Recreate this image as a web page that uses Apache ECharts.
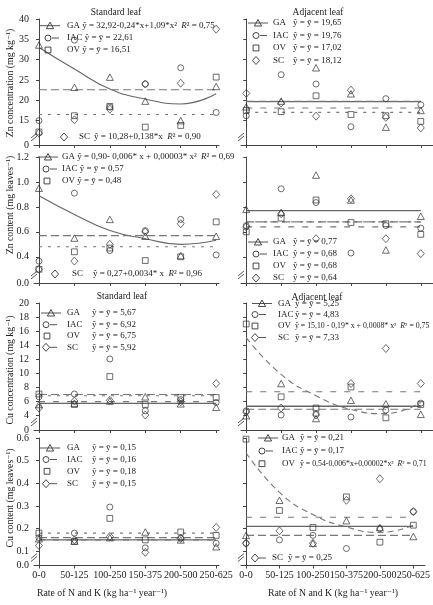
<html>
<head>
<meta charset="utf-8">
<script src="https://cdn.jsdelivr.net/npm/echarts@6.0.0/dist/echarts.min.js"></script>
<style>
html, body { margin: 0; padding: 0; background: #ffffff; }
#chart { width: 433px; height: 605px; }
</style>
</head>
<body>
<div id="chart"></div>
<script>
///////////////////////////////////////////////////////////////////////////////
// data (order of the inner arrays: GA, IAC, OV, SC)
var categories = ['0-0', '50-125', '100-250', '150-375', '200-500', '250-625'];
var varieties = ['GA', 'IAC', 'OV', 'SC'];

var znConcTicks = [15, 20, 25, 30, 35, 40];
var znContTicks = [0.4, 0.6, 0.8, 1.0, 1.2];
var cuConcTicks = [4, 6, 8, 10, 12, 14, 16, 18, 20];
var cuContTicks = [0.1, 0.2, 0.3, 0.4, 0.5, 0.6];

// Zn concentration, standard leaf
var znConcStd = [
	[33.6, 23.2, 25.7, 19.8, 15.0, 23.4],
	[15.0, 34.8, 18.3, 24.0, 28.0, 17.0],
	[12.2, 16.2, 18.5, 13.4, 13.8, 25.7],
	[11.9, 15.2, 17.8, 24.0, 24.2, 37.5]
];
var znConcStdMean = [null, 22.61, 16.51, null];
var znConcStdFit = [[33.0, 27.7, 22.8, 20.3, 19.1, 21.6], null, null, null];
var znConcStdEq = ['ŷ = 32,92-0,24*x+1,09*x²', 'ŷ = ȳ = 22,61', 'ŷ = ȳ = 16,51', 'ŷ = 10,28+0,138*x'];
var znConcStdR2 = ['0,75', '', '', '0,90'];

// Zn concentration, adjacent leaf
var znConcAdj = [
	[18.4, 19.8, 28.0, 21.6, 13.4, 17.5],
	[16.2, 26.3, 24.0, 13.5, 20.4, 18.9],
	[17.5, 17.2, 21.1, 16.5, 16.2, 14.8],
	[21.7, 19.3, 16.1, 22.5, 15.8, 13.2]
];
var znConcAdjMean = [19.65, 19.76, 17.02, 18.12];
var znConcAdjFit = [null, null, null, null];
var znConcAdjEq = ['ŷ = ȳ = 19,65', 'ŷ = ȳ = 19,76', 'ŷ = ȳ = 17,02', 'ŷ = ȳ = 18,12'];
var znConcAdjR2 = ['', '', '', ''];

// Zn content, standard leaf
var znContStd = [
	[0.95, 0.55, 0.70, 0.565, 0.41, 0.565],
	[0.365, 0.91, 0.45, 0.61, 0.70, 0.415],
	[0.30, 0.44, 0.47, 0.37, 0.40, 0.68],
	[0.30, 0.365, 0.50, 0.60, 0.665, 0.90]
];
var znContStdMean = [null, 0.57, 0.48, null];
var znContStdFit = [[0.89, 0.74, 0.61, 0.545, 0.50, 0.533], null, null, null];
var znContStdEq = ['ŷ = 0,90- 0,006* x + 0,00003* x²', 'ŷ = ȳ = 0,57', 'ŷ = ȳ = 0,48', 'ŷ = 0,27+0,0034* x'];
var znContStdR2 = ['0,69', '', '', '0,96'];

// Zn content, adjacent leaf
var znContAdj = [
	[0.78, 0.755, 1.055, 0.855, 0.455, 0.725],
	[0.65, 0.945, 0.835, 0.43, 0.65, 0.63],
	[0.60, 0.71, 0.855, 0.675, 0.665, 0.58],
	[0.64, 0.745, 0.545, 0.865, 0.545, 0.425]
];
var znContAdjMean = [0.77, 0.68, 0.68, 0.64];
var znContAdjFit = [null, null, null, null];
var znContAdjEq = ['ŷ = ȳ = 0,77', 'ŷ = ȳ = 0,68', 'ŷ = ȳ = 0,68', 'ŷ = ȳ = 0,64'];
var znContAdjR2 = ['', '', '', ''];

// Cu concentration, standard leaf
var cuConcStd = [
	[5.5, 5.7, 6.0, 6.6, 5.6, 5.1],
	[6.6, 7.0, 12.0, 4.6, 6.2, 5.8],
	[7.0, 5.5, 9.5, 5.5, 6.5, 6.5],
	[5.0, 6.0, 6.1, 4.0, 5.9, 8.5]
];
var cuConcStdMean = [5.67, 6.92, 6.75, 5.92];
var cuConcStdFit = [null, null, null, null];
var cuConcStdEq = ['ŷ = ȳ = 5,67', 'ŷ = ȳ = 6,92', 'ŷ = ȳ = 6,75', 'ŷ = ȳ = 5,92'];
var cuConcStdR2 = ['', '', '', ''];

// Cu concentration, adjacent leaf
var cuConcAdj = [
	[3.9, 8.5, 3.5, 6.1, 5.6, 4.1],
	[4.6, 4.0, 4.2, 3.7, 4.7, 5.7],
	[17.0, 6.6, 5.0, 8.0, 3.6, 5.5],
	[4.4, 5.0, 4.0, 8.5, 13.5, 8.5]
];
var cuConcAdjMean = [5.25, 4.83, null, 7.33];
var cuConcAdjFit = [null, null, [15.05, 9.8, 6.76, 4.8, 4.2, 5.8], null];
var cuConcAdjEq = ['ŷ = ȳ = 5,25', 'ŷ = ȳ = 4,83', 'ŷ = 15,10 - 0,19* x + 0,0008* x²', 'ŷ = ȳ = 7,33'];
var cuConcAdjR2 = ['', '', '0,75', ''];

// Cu content, standard leaf
var cuContStd = [
	[0.155, 0.145, 0.16, 0.185, 0.15, 0.12],
	[0.16, 0.18, 0.295, 0.115, 0.158, 0.135],
	[0.18, 0.143, 0.245, 0.15, 0.185, 0.17],
	[0.125, 0.15, 0.165, 0.095, 0.156, 0.205]
];
var cuContStdMean = [0.15, 0.16, 0.18, 0.15];
var cuContStdFit = [null, null, null, null];
var cuContStdEq = ['ŷ = ȳ = 0,15', 'ŷ = ȳ = 0,16', 'ŷ = ȳ = 0,18', 'ŷ = ȳ = 0,15'];
var cuContStdR2 = ['', '', '', ''];

// Cu content, adjacent leaf
var cuContAdj = [
	[0.17, 0.325, 0.135, 0.235, 0.205, 0.165],
	[0.135, 0.15, 0.17, 0.112, 0.20, 0.275],
	[0.595, 0.28, 0.205, 0.34, 0.14, 0.215],
	[0.135, 0.19, 0.135, 0.325, 0.42, 0.275]
];
var cuContAdjMean = [0.21, 0.17, null, 0.25];
var cuContAdjFit = [null, null, [0.535, 0.36, 0.262, 0.207, 0.183, 0.215], null];
var cuContAdjEq = ['ŷ = ȳ = 0,21', 'ŷ = ȳ = 0,17', 'ŷ = 0,54-0,006*x+0,00002*x²', 'ŷ = ȳ = 0,25'];
var cuContAdjR2 = ['', '', '0,71', ''];

var yNames = ['Zn concentration (mg kg⁻¹)', 'Zn content (mg leaves⁻¹)', 'Cu concentration (mg kg⁻¹)', 'Cu content (mg leaves⁻¹)'];
var xName = 'Rate of N and K (kg ha⁻¹ year⁻¹)';

///////////////////////////////////////////////////////////////////////////////
// layout
var FONT = "'Liberation Serif', 'DejaVu Serif', serif";
var INK = '#222';
var AXIS = '#444';
var LEG = 9;

var panels = [
	{d: znConcStd, m: znConcStdMean, f: znConcStdFit, eq: znConcStdEq, r2: znConcStdR2},
	{d: znConcAdj, m: znConcAdjMean, f: znConcAdjFit, eq: znConcAdjEq, r2: znConcAdjR2},
	{d: znContStd, m: znContStdMean, f: znContStdFit, eq: znContStdEq, r2: znContStdR2},
	{d: znContAdj, m: znContAdjMean, f: znContAdjFit, eq: znContAdjEq, r2: znContAdjR2},
	{d: cuConcStd, m: cuConcStdMean, f: cuConcStdFit, eq: cuConcStdEq, r2: cuConcStdR2},
	{d: cuConcAdj, m: cuConcAdjMean, f: cuConcAdjFit, eq: cuConcAdjEq, r2: cuConcAdjR2},
	{d: cuContStd, m: cuContStdMean, f: cuContStdFit, eq: cuContStdEq, r2: cuContStdR2},
	{d: cuContAdj, m: cuContAdjMean, f: cuContAdjFit, eq: cuContAdjEq, r2: cuContAdjR2}
];

var cols = [
	{left: 34, width: 185, min: -0.14, max: 5.08},
	{left: 241, width: 194, min: -0.15, max: 5.35}
];
var rows = [
	{top: 19, height: 126, min: 9, max: 40, ticks: znConcTicks, zero: '0', dec: 0},
	{top: 157, height: 126, min: 0.19, max: 1.2, ticks: znContTicks, zero: '0.0', dec: 1},
	{top: 303, height: 127, min: 1.86, max: 20, ticks: cuConcTicks, zero: '0', dec: 0},
	{top: 438, height: 127.5, min: 0.037, max: 0.6, ticks: cuContTicks, zero: '0.0', dec: 1}
];

var symbols = ['triangle', 'circle', 'rect', 'diamond'];
var symSize = [[7, 6.5], 6, 5.8, [7, 8]];
var meanDash = ['solid', [8, 4], [3, 6], [6, 8]];

///////////////////////////////////////////////////////////////////////////////
var grids = [], xAxes = [], yAxes = [], series = [], graphics = [];
var catIdx = categories.map(function(c, k) { return k; });

panels.forEach(function(p, i) {
	var r = rows[Math.floor(i / 2)], c = cols[i % 2];
	var bottomRow = Math.floor(i / 2) === 3;
	grids.push({left: c.left, width: c.width, top: r.top, height: r.height});

	xAxes.push({
		gridIndex: i, type: 'value', min: c.min, max: c.max,
		splitLine: {show: false},
		axisLine: {lineStyle: {color: AXIS, width: 1}},
		axisTick: {customValues: catIdx, length: 3, lineStyle: {color: AXIS}},
		axisLabel: {
			show: bottomRow, customValues: catIdx, margin: 5,
			fontFamily: FONT, fontSize: 10, color: INK,
			formatter: function(v) { return categories[Math.round(v)]; }
		}
	});

	var yv = [r.min].concat(r.ticks);
	yAxes.push({
		gridIndex: i, type: 'value', min: r.min, max: r.max,
		splitLine: {show: false},
		axisLine: {show: true, lineStyle: {color: AXIS, width: 1}},
		axisTick: {show: true, customValues: yv, length: 3, lineStyle: {color: AXIS}},
		axisLabel: {
			show: i % 2 === 0, customValues: yv, margin: 5,
			fontFamily: FONT, fontSize: 10, color: INK,
			formatter: function(v) {
				if (Math.abs(v - r.min) < 1e-9) return r.zero;
				return v.toFixed(r.dec);
			}
		}
	});

	for (var v = 0; v < 4; v++) {
		if (p.m[v] !== null) {
			series.push({
				type: 'line', xAxisIndex: i, yAxisIndex: i, symbol: 'none', silent: true, z: 2,
				data: [[0, p.m[v]], [categories.length - 1, p.m[v]]],
				lineStyle: {color: v === 0 ? '#666' : '#777', width: v === 0 ? 1.3 : 1.1, type: meanDash[v]}
			});
		}
		if (p.f[v]) {
			series.push({
				type: 'line', xAxisIndex: i, yAxisIndex: i, symbol: 'none', silent: true, z: 2,
				smooth: 0.5,
				data: p.f[v].map(function(y, k) { return [k, y]; }),
				lineStyle: {color: v === 0 ? '#666' : '#777', width: 1.1, type: v === 0 ? 'solid' : [6, 4]}
			});
		}
		series.push({
			type: 'scatter', xAxisIndex: i, yAxisIndex: i, silent: true, z: 3,
			symbol: symbols[v], symbolSize: symSize[v],
			data: p.d[v].map(function(y, k) { return [k, y]; }),
			itemStyle: {color: 'rgba(255,255,255,0)', borderColor: '#333', borderWidth: 0.9}
		});
	}

	// axis break mark
	var ax = c.left, ab = r.top + r.height;
	graphics.push({type: 'rect', z: 100, shape: {x: ax - 2, y: ab - 9, width: 4, height: 4}, style: {fill: '#fff'}});
	graphics.push({type: 'line', z: 101, shape: {x1: ax - 3, y1: ab - 4, x2: ax + 3, y2: ab - 9}, style: {stroke: AXIS, lineWidth: 0.9}});
	graphics.push({type: 'line', z: 101, shape: {x1: ax - 3, y1: ab - 7, x2: ax + 3, y2: ab - 12}, style: {stroke: AXIS, lineWidth: 0.9}});
});

///////////////////////////////////////////////////////////////////////////////
// legends
function legendSymbol(v, x, y) {
	var st = {fill: 'none', stroke: '#333', lineWidth: 0.9};
	if (v === 0) return {type: 'polygon', z: 110, shape: {points: [[x, y - 3.5], [x + 3.6, y + 3], [x - 3.6, y + 3]]}, style: st};
	if (v === 1) return {type: 'circle', z: 110, shape: {cx: x, cy: y, r: 3}, style: st};
	if (v === 2) return {type: 'rect', z: 110, shape: {x: x - 2.9, y: y - 2.9, width: 5.8, height: 5.8}, style: st};
	return {type: 'polygon', z: 110, shape: {points: [[x, y - 4], [x + 3.6, y], [x, y + 4], [x - 3.6, y]]}, style: st};
}

function richText(x, y, text, size) {
	return {
		type: 'text', z: 110, x: x, y: y,
		style: {
			text: text, fill: INK, font: size + 'px ' + FONT, verticalAlign: 'middle',
			rich: {i: {fontStyle: 'italic', fontSize: size, fontFamily: FONT, fill: INK}}
		}
	};
}

// panel, variety, symbol x, y, line mode, name x, equation x (null = inline), font size
var legendLayout = [
	[0, 0, 50, 25.7, 'both', 67, null, LEG],
	[0, 1, 48, 38, 'after', 67, null, LEG],
	[0, 2, 48, 50, 'none', 67, null, LEG],
	[0, 3, 64, 137, 'none', 79, 94, LEG],
	[1, 0, 258, 23, 'both', 273, 293, LEG],
	[1, 1, 256, 35.5, 'after', 273, 293, LEG],
	[1, 2, 256, 48, 'none', 273, 293, LEG],
	[1, 3, 256, 60.5, 'none', 273, 293, LEG],
	[2, 0, 48, 157, 'both', 62, null, LEG],
	[2, 1, 46, 169, 'after', 62, null, LEG],
	[2, 2, 47, 181, 'none', 62, null, LEG],
	[2, 3, 55, 274, 'none', 72, 93, LEG],
	[3, 0, 258, 242, 'both', 273, 293, LEG],
	[3, 1, 256, 254, 'after', 273, 293, LEG],
	[3, 2, 256, 266, 'none', 273, 293, LEG],
	[3, 3, 256, 278, 'none', 273, 293, LEG],
	[4, 0, 51, 313, 'both', 67, 92, LEG],
	[4, 1, 46, 324.7, 'after', 67, 92, LEG],
	[4, 2, 47, 336, 'none', 67, 92, LEG],
	[4, 3, 46, 347.3, 'after', 67, 92, LEG],
	[5, 0, 262, 303.5, 'both', 278, 295, LEG],
	[5, 1, 255, 314.5, 'after', 278, 295, LEG],
	[5, 2, 255, 326, 'none', 278, 295, 7.8],
	[5, 3, 255, 337.5, 'after', 278, 295, LEG],
	[6, 0, 50, 448, 'both', 67, 92, LEG],
	[6, 1, 46, 459.5, 'after', 67, 92, LEG],
	[6, 2, 47, 471.3, 'none', 67, 92, LEG],
	[6, 3, 46, 483.7, 'after', 67, 92, LEG],
	[7, 0, 268, 438, 'both', 282, 300, LEG],
	[7, 1, 262, 451, 'after', 282, 300, LEG],
	[7, 2, 262, 463.7, 'none', 282, 300, 7.8],
	[7, 3, 255, 558, 'after', 272, 288, LEG]
];

legendLayout.forEach(function(e) {
	var p = panels[e[0]], v = e[1], sx = e[2], y = e[3], mode = e[4];
	var lst = {stroke: '#555', lineWidth: 1};
	if (mode === 'both') graphics.push({type: 'line', z: 109, shape: {x1: sx - 10, y1: y, x2: sx + 10, y2: y}, style: lst});
	if (mode === 'after') graphics.push({type: 'line', z: 109, shape: {x1: sx + 4, y1: y, x2: sx + 11, y2: y}, style: lst});
	graphics.push(legendSymbol(v, sx, y));
	var eq = p.eq[v] + (p.r2[v] ? '  {i|R}² = ' + p.r2[v] : '');
	if (e[6] === null) {
		graphics.push(richText(e[5], y, varieties[v] + ' ' + eq, e[7]));
	} else {
		graphics.push(richText(e[5], y, varieties[v], LEG));
		graphics.push(richText(e[6], y, eq, e[7]));
	}
});

// titles and axis names
function plainText(x, y, text, size, rot) {
	return {
		type: 'text', z: 110, x: x, y: y, rotation: rot || 0,
		style: {text: text, fill: INK, font: size + 'px ' + FONT, align: 'center', verticalAlign: 'middle'}
	};
}
graphics.push(plainText(116, 12, 'Standard leaf', 9.5));
graphics.push(plainText(318, 12, 'Adjacent leaf', 9.5));
graphics.push(plainText(122, 296, 'Standard leaf', 9.5));
graphics.push(plainText(317, 297, 'Adjacent leaf', 9.5));
var yNameCenter = [83, 205, 370, 498];
yNames.forEach(function(n, k) { graphics.push(plainText(10, yNameCenter[k], n, 9.8, Math.PI / 2)); });
graphics.push(plainText(102, 593, xName, 9.8));
graphics.push(plainText(333, 593, xName, 9.8));

///////////////////////////////////////////////////////////////////////////////
var chart = echarts.init(document.getElementById('chart'));
chart.setOption({
	animation: false,
	backgroundColor: '#ffffff',
	grid: grids,
	xAxis: xAxes,
	yAxis: yAxes,
	series: series,
	graphic: graphics
});
</script>
</body>
</html>
